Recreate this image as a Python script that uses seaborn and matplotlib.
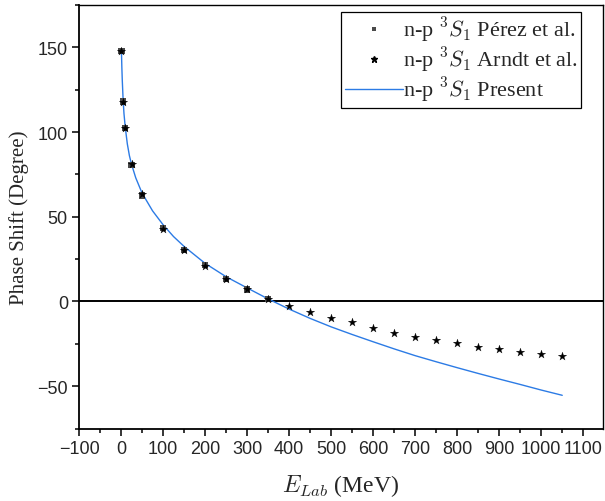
import matplotlib
matplotlib.use("Agg")
import matplotlib.pyplot as plt
from matplotlib.lines import Line2D
from matplotlib.ticker import MultipleLocator
import seaborn as sns
import pandas as pd

# Laboratory energies (MeV) of the phase-shift analyses
E_perez = [1, 5, 10, 25, 50, 100, 150, 200, 250, 300, 350]
delta_perez = [147.7, 118.0, 102.5, 80.7, 62.6, 43.2, 30.6, 21.3, 13.4, 7.1, 1.6]

E_arndt = [1, 5, 10, 25, 50, 100, 150, 200, 250, 300, 350, 400, 450, 500,
           550, 600, 650, 700, 750, 800, 850, 900, 950, 1000, 1050]
delta_arndt = [147.8, 118.0, 102.4, 81.1, 63.2, 43.0, 30.3, 20.9, 13.4, 7.1,
               1.6, -2.8, -6.3, -9.5, -12.4, -15.4, -18.5, -20.9, -23.0,
               -24.8, -26.6, -28.2, -29.6, -30.9, -32.3]

# Present calculation
E_present = [1, 2, 3, 5, 7, 10, 15, 20, 25, 35, 50, 75, 100, 125, 150, 200,
             250, 300, 350, 400, 450, 500, 550, 600, 650, 700, 750, 800, 850,
             900, 950, 1000, 1050]
delta_present = [147.5, 138.0, 130.5, 119.0, 111.0, 103.0, 93.0, 86.0, 81.0,
                 73.0, 64.0, 53.5, 45.3, 38.3, 32.5, 22.5, 14.6, 8.0, 1.5,
                 -4.5, -10.0, -15.0, -19.5, -23.8, -28.0, -32.0, -35.6, -39.1,
                 -42.5, -45.8, -49.0, -52.3, -55.4]

x_ticks = list(range(-100, 1101, 100))
y_ticks = [-50, 0, 50, 100, 150]

lab_perez = r"n-p $^{3}S_{1}$ Pérez et al."
lab_arndt = r"n-p $^{3}S_{1}$ Arndt et al."
lab_present = r"n-p $^{3}S_{1}$ Present"

sns.set_style("white")
plt.rcParams["font.family"] = ["Liberation Serif", "DejaVu Serif"]
plt.rcParams["mathtext.fontset"] = "cm"

line_color = "#2c7be5"
square_color = "#4a4a4a"

fig = plt.figure(figsize=(6.05, 5.02), dpi=100)
ax = fig.add_axes([79 / 605, 1 - 429.5 / 502, (603 - 79) / 605, (429.5 - 6) / 502])

ax.axhline(0, color="black", lw=1.4, zorder=1)

df_present = pd.DataFrame({"E": E_present, "delta": delta_present})
df_perez = pd.DataFrame({"E": E_perez, "delta": delta_perez})
df_arndt = pd.DataFrame({"E": E_arndt, "delta": delta_arndt})

sns.lineplot(data=df_present, x="E", y="delta", ax=ax, color=line_color,
             lw=1.0, estimator=None, sort=False, zorder=2, legend=False)
sns.scatterplot(data=df_perez, x="E", y="delta", ax=ax, marker="s", s=20,
                color=square_color, edgecolor="none", zorder=3, legend=False)
sns.scatterplot(data=df_arndt, x="E", y="delta", ax=ax, marker="*", s=40,
                color="black", edgecolor="black", linewidth=0.2, zorder=4,
                legend=False)

ax.set_xlim(-100, 1147)
ax.set_ylim(-75, 175)
ax.set_xticks(x_ticks)
ax.set_yticks(y_ticks)
ax.xaxis.set_minor_locator(MultipleLocator(50))
ax.yaxis.set_minor_locator(MultipleLocator(25))
ax.tick_params(axis="both", which="major", direction="out", length=5,
               width=1.1, color="black", labelsize=13, pad=3,
               bottom=True, left=True, top=False, right=False)
ax.tick_params(axis="both", which="minor", direction="out", length=3,
               width=1.1, color="black", bottom=True, left=True,
               top=False, right=False)
for lbl in ax.get_xticklabels() + ax.get_yticklabels():
    lbl.set_fontfamily("Liberation Sans")

for sp in ax.spines.values():
    sp.set_visible(True)
    sp.set_color("black")
    sp.set_linewidth(1.0)
ax.spines["left"].set_linewidth(1.3)
ax.spines["bottom"].set_linewidth(1.3)

ax.set_xlabel(r"$E_{Lab}$ (MeV)", fontsize=17, labelpad=11)
ax.set_ylabel("Phase Shift (Degree)", fontsize=15, labelpad=6)

handles = [
    Line2D([], [], ls="none", marker="s", ms=3.5, color=square_color,
           markeredgewidth=0),
    Line2D([], [], ls="none", marker="*", ms=5, color="black"),
    Line2D([], [], color=line_color, lw=1.0),
]
leg = ax.legend(handles, [lab_perez, lab_arndt, lab_present],
                loc="upper right", bbox_to_anchor=(0.958, 0.984),
                borderaxespad=0, fontsize=16, frameon=True, fancybox=False,
                framealpha=1, edgecolor="black", handlelength=2.6,
                handletextpad=0.0, borderpad=0.15, labelspacing=0.05)
leg.get_frame().set_linewidth(0.9)

fig.savefig("out.png", dpi=100)
